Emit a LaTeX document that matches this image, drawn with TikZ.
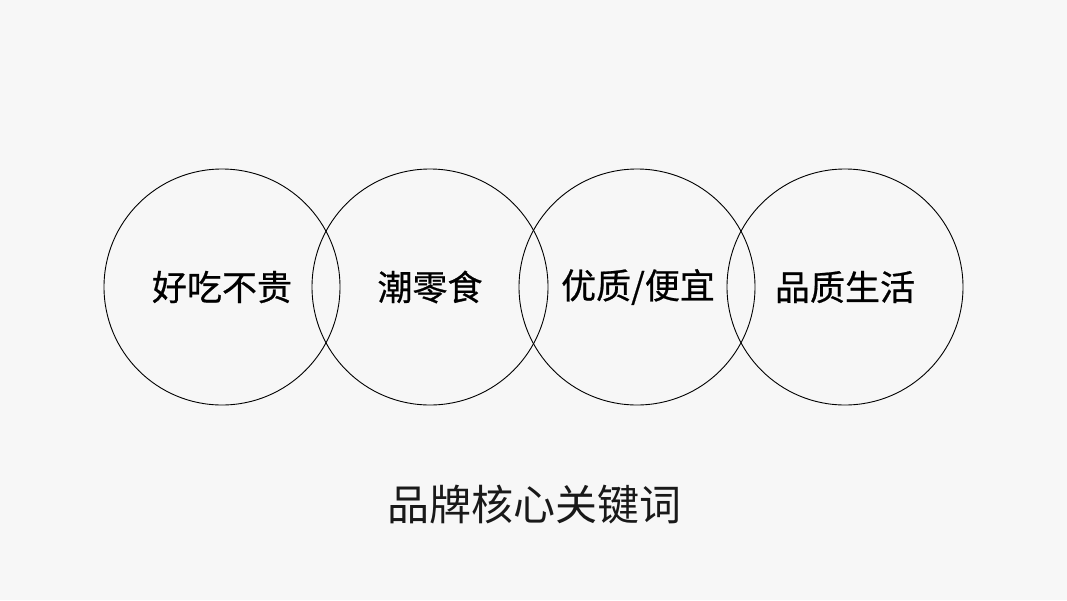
\documentclass[tikz,border=0pt]{standalone}
\usepackage{fontspec}
\newfontfamily\cjk{Noto Sans CJK SC}
\newfontfamily\cjkm[FakeBold=0.6]{Noto Sans CJK SC}
\definecolor{bg}{HTML}{F7F7F7}
\begin{document}
\begin{tikzpicture}[x=1pt,y=-1pt,
  ring/.style={circle,draw=black,line width=0.9pt,minimum size=236pt,inner sep=0pt},
  lbl/.style={font=\cjkm\fontsize{35}{40}\selectfont,text=black},
  ttl/.style={font=\cjk\fontsize{42}{48}\selectfont,text=black!90}]
\fill[bg] (0,0) rectangle (1067,600);
\useasboundingbox (0,0) rectangle (1067,600);
\node[ring] (c1) at (222,287) {};
\node[ring] (c2) at (430,287) {};
\node[ring] (c3) at (637,287) {};
\node[ring] (c4) at (845,287) {};
\node[lbl] (t1) at (222,287) {好吃不贵};
\node[lbl] (t2) at (430,287) {潮零食};
\node[lbl] (t3) at (638,287) {优质/便宜};
\node[lbl] (t4) at (845,287) {品质生活};
\node[ttl] (title) at (534,505) {品牌核心关键词};
\end{tikzpicture}
\end{document}
